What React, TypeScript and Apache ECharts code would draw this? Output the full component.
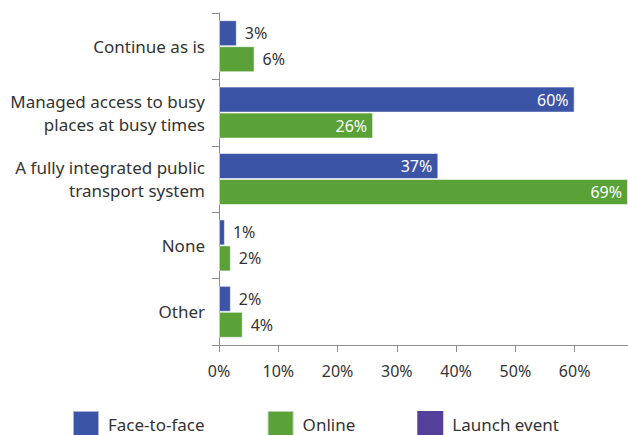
import React, { useEffect, useRef } from "react";
import * as echarts from "echarts";

const categories = [
  "Continue as is",
  "Managed access to busy\nplaces at busy times",
  "A fully integrated public\ntransport system",
  "None",
  "Other",
];
const faceToFace = [3, 60, 37, 1, 2];
const online = [6, 26, 69, 2, 4];
const seriesNames = ["Face-to-face", "Online", "Launch event"];
const xTicks = [0, 10, 20, 30, 40, 50, 60];

const BLUE = "#3C54A5";
const GREEN = "#5AA138";
const PURPLE = "#54409A";
const TEXT = "#333333";
const AXIS = "#8c8c8c";
const FONT = "Noto Sans";

function toData(values: number[]) {
  return values.map((v) => {
    const inside = v >= 20;
    return {
      value: v,
      label: inside
        ? { position: "insideRight", color: "#ffffff", distance: 6 }
        : { position: "right", color: TEXT, distance: 8 },
    };
  });
}

export default function App() {
  const ref = useRef<HTMLDivElement>(null);
  useEffect(() => {
    if (!ref.current) return;
    const chart = echarts.init(ref.current, null, { renderer: "svg" });
    const barLabel = {
      show: true,
      fontFamily: FONT,
      fontSize: 16,
      formatter: (p: any) => `${p.value}%`,
    };
    chart.setOption({
      animation: false,
      textStyle: { fontFamily: FONT },
      grid: { left: 219, top: 13, width: 411, height: 332, containLabel: false },
      xAxis: {
        type: "value",
        min: xTicks[0],
        max: 69,
        interval: 10,
        axisLine: { show: true, lineStyle: { color: AXIS, width: 1 } },
        axisTick: { show: true, length: 7, lineStyle: { color: AXIS } },
        splitLine: { show: false },
        axisLabel: {
          color: TEXT,
          fontFamily: FONT,
          fontSize: 16,
          margin: 18,
          showMaxLabel: false,
          formatter: (v: number) => (xTicks.includes(v) ? `${v}%` : ""),
        },
      },
      yAxis: {
        type: "category",
        inverse: true,
        data: categories,
        axisLine: { show: true, lineStyle: { color: AXIS, width: 1 } },
        axisTick: { show: true, length: 7, lineStyle: { color: AXIS } },
        axisLabel: {
          color: TEXT,
          fontFamily: FONT,
          fontSize: 17,
          lineHeight: 23,
          margin: 14,
          align: "right",
        },
      },
      legend: {
        left: 72,
        top: 410,
        icon: "rect",
        itemWidth: 26,
        itemHeight: 26,
        itemGap: 62,
        padding: 0,
        textStyle: {
          color: TEXT,
          fontFamily: FONT,
          fontSize: 17,
          padding: [0, 0, 0, 4],
        },
        data: seriesNames.map((n) => ({ name: n, icon: "rect" })),
      },
      series: [
        {
          name: seriesNames[0],
          type: "bar",
          barWidth: 26,
          barGap: "0%",
          data: toData(faceToFace),
          itemStyle: { color: BLUE, borderColor: "rgba(255,255,255,0.55)", borderWidth: 1 },
          label: barLabel,
        },
        {
          name: seriesNames[1],
          type: "bar",
          barWidth: 26,
          barGap: "0%",
          data: toData(online),
          itemStyle: { color: GREEN, borderColor: "rgba(255,255,255,0.55)", borderWidth: 1 },
          label: barLabel,
        },
        {
          name: seriesNames[2],
          type: "line",
          data: [],
          itemStyle: { color: PURPLE },
          lineStyle: { color: PURPLE },
        },
      ],
    });
    return () => chart.dispose();
  }, []);
  return (
    <div
      ref={ref}
      style={{ position: "absolute", left: 0, top: 0, width: 628, height: 435 }}
    />
  );
}
